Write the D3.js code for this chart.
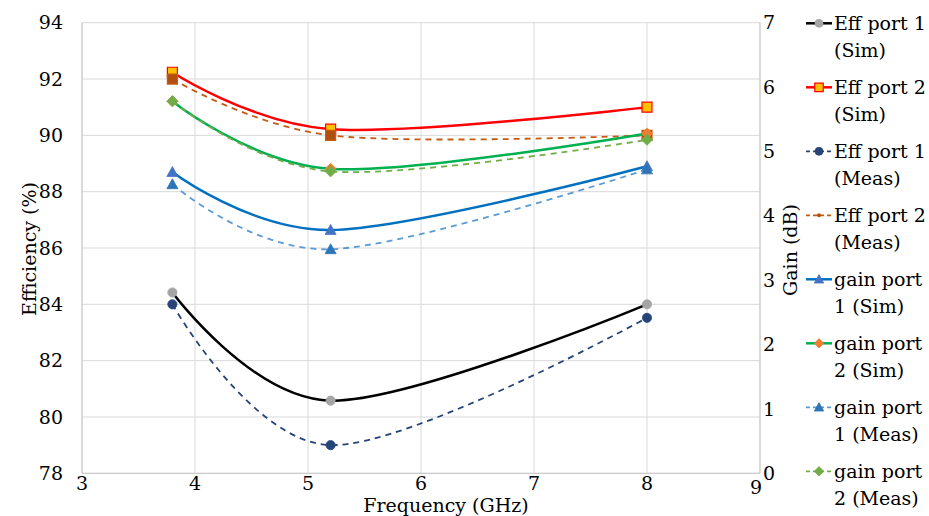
<!DOCTYPE html>
<html><head><meta charset="utf-8">
<script src="https://cdn.jsdelivr.net/npm/d3@7"></script>
<style>body{margin:0;background:#fff;} svg{display:block;}</style>
</head><body>
<svg id="c" width="929" height="516"></svg>
<script>
const freq = [3.8, 5.2, 8];
const effPort1Sim = [84.42, 80.58, 84.0];
const effPort2Sim = [92.24, 90.22, 91.0];
const effPort1Meas = [84.0, 79.0, 83.52];
const effPort2Meas = [92.0, 90.0, 90.0];
const gainPort1Sim = [4.68, 3.78, 4.77];
const gainPort2Sim = [5.78, 4.73, 5.28];
const gainPort1Meas = [4.49, 3.48, 4.72];
const gainPort2Meas = [5.78, 4.69, 5.18];
const xTicks = [3, 4, 5, 6, 7, 8, 9];
const effTicks = [78, 80, 82, 84, 86, 88, 90, 92, 94];
const gainTicks = [0, 1, 2, 3, 4, 5, 6, 7];
const legendLabels = [["Eff port 1", "(Sim)"], ["Eff port 2", "(Sim)"], ["Eff port 1", "(Meas)"], ["Eff port 2", "(Meas)"],
  ["gain port", "1 (Sim)"], ["gain port", "2 (Sim)"], ["gain port", "1 (Meas)"], ["gain port", "2 (Meas)"]];

const FONT = "DejaVu Serif, Liberation Serif, serif";

const series = [
  {vals: effPort1Sim, axis: "L", line: "#000000", w: 2.5, dash: null, marker: "circle", fill: "#A5A5A5", stroke: "#A5A5A5", size: 4.6},
  {vals: effPort2Sim, axis: "L", line: "#FF0000", w: 2.5, dash: null, marker: "square", fill: "#FFC000", stroke: "#FF0000", size: 10},
  {vals: effPort1Meas, axis: "L", line: "#264478", w: 1.8, dash: "6,5", marker: "circle", fill: "#264478", stroke: "#264478", size: 4.6},
  {vals: effPort2Meas, axis: "L", line: "#C55A11", w: 1.8, dash: "6,5", marker: "square", fill: "#B04F0F", stroke: "#C55A11", size: 10, legendMarker: "dot"},
  {vals: gainPort1Sim, axis: "R", line: "#0070C0", w: 2.5, dash: null, marker: "triangle", fill: "#4472C4", stroke: "#4472C4", size: 11},
  {vals: gainPort2Sim, axis: "R", line: "#00B050", w: 2.5, dash: null, marker: "diamond", fill: "#ED7D31", stroke: "#ED7D31", size: 11},
  {vals: gainPort1Meas, axis: "R", line: "#5B9BD5", w: 1.8, dash: "6,5", marker: "triangle", fill: "#2E75B6", stroke: "#2E75B6", size: 11},
  {vals: gainPort2Meas, axis: "R", line: "#70AD47", w: 1.8, dash: "6,5", marker: "diamond", fill: "#70AD47", stroke: "#70AD47", size: 11}
];

const svg = d3.select("#c");
const x = d3.scaleLinear().domain([3, 9]).range([82, 760]);
const yL = d3.scaleLinear().domain([78, 94]).range([473.3, 22.7]);
const yR = d3.scaleLinear().domain([0, 7]).range([473.3, 22.7]);
const grid = "#D9D9D9";

svg.append("g").selectAll("line").data(effTicks).join("line")
  .attr("x1", x(3)).attr("x2", x(9)).attr("y1", d => yL(d)).attr("y2", d => yL(d))
  .attr("stroke", grid).attr("stroke-width", 1);
svg.append("g").selectAll("line").data(xTicks).join("line")
  .attr("y1", yL(94)).attr("y2", yL(78)).attr("x1", d => x(d)).attr("x2", d => x(d))
  .attr("stroke", grid).attr("stroke-width", 1);
const ax = "#C8C8C8";
svg.append("line").attr("x1", x(3)).attr("x2", x(3)).attr("y1", yL(94)).attr("y2", yL(78)).attr("stroke", ax);
svg.append("line").attr("x1", x(9)).attr("x2", x(9)).attr("y1", yL(94)).attr("y2", yL(78)).attr("stroke", ax);
svg.append("line").attr("x1", x(3)).attr("x2", x(9)).attr("y1", yL(78)).attr("y2", yL(78)).attr("stroke", ax);

function txt(sel) { return sel.attr("font-family", FONT).attr("fill", "#000"); }

txt(svg.append("g").selectAll("text").data(effTicks).join("text"))
  .attr("x", 63).attr("y", d => yL(d)).attr("dy", "0.35em").attr("text-anchor", "end")
  .attr("font-size", 19).text(d => d);
txt(svg.append("g").selectAll("text").data(gainTicks).join("text"))
  .attr("x", 763).attr("y", d => yR(d)).attr("dy", "0.35em").attr("text-anchor", "start")
  .attr("font-size", 19).text(d => d);
txt(svg.append("g").selectAll("text").data(xTicks).join("text"))
  .attr("x", d => x(d) - (d === 9 ? 4 : 0)).attr("y", d => d === 9 ? 494 : 490).attr("text-anchor", "middle")
  .attr("font-size", 19).text(d => d);

txt(svg.append("text")).attr("x", 446).attr("y", 512).attr("text-anchor", "middle").attr("font-size", 19).text("Frequency (GHz)");
txt(svg.append("text")).attr("transform", "translate(36,249) rotate(-90)").attr("text-anchor", "middle").attr("font-size", 19).text("Efficiency (%)");
txt(svg.append("text")).attr("transform", "translate(797,250) rotate(-90)").attr("text-anchor", "middle").attr("font-size", 19).text("Gain (dB)");

function markerPath(type, s) {
  const h = s / 2;
  if (type === "square") return `M${-h},${-h}H${h}V${h}H${-h}Z`;
  if (type === "triangle") return `M0,${-h}L${h},${h * 0.8}L${-h},${h * 0.8}Z`;
  if (type === "diamond") return `M0,${-h}L${h},0L0,${h}L${-h},0Z`;
  return null;
}
function drawMarker(g, s, cx, cy, type, size) {
  if (type === "circle") {
    g.append("circle").attr("cx", cx).attr("cy", cy).attr("r", size).attr("fill", s.fill).attr("stroke", s.stroke).attr("stroke-width", 0.8);
  } else if (type === "dot") {
    g.append("circle").attr("cx", cx).attr("cy", cy).attr("r", 2).attr("fill", s.fill);
  } else {
    g.append("path").attr("d", markerPath(type, size)).attr("transform", `translate(${cx},${cy})`)
      .attr("fill", s.fill).attr("stroke", s.stroke).attr("stroke-width", type === "square" ? 1.2 : 0.8);
  }
}

const line = d3.line().curve(d3.curveCatmullRom.alpha(0));
series.forEach(s => {
  const y = s.axis === "L" ? yL : yR;
  const pts = freq.map((f, i) => [x(f), y(s.vals[i])]);
  const g = svg.append("g");
  g.append("path").attr("d", line(pts)).attr("fill", "none").attr("stroke", s.line)
    .attr("stroke-width", s.w).attr("stroke-dasharray", s.dash);
  pts.forEach(p => drawMarker(g, s, p[0], p[1], s.marker, s.size));
});

const lg = svg.append("g");
series.forEach((s, i) => {
  const cy = 23.3 + i * 64;
  lg.append("line").attr("x1", 806).attr("x2", 832).attr("y1", cy).attr("y2", cy)
    .attr("stroke", s.line).attr("stroke-width", s.w).attr("stroke-dasharray", s.dash ? "4,3" : null);
  drawMarker(lg, s, 819, cy, s.legendMarker || s.marker, s.marker === "circle" ? 4 : s.size * 0.85);
  txt(lg.append("text")).attr("x", 834).attr("y", cy).attr("dy", "0.35em").attr("font-size", 19).text(legendLabels[i][0]);
  txt(lg.append("text")).attr("x", 834).attr("y", cy + 27.5).attr("dy", "0.35em").attr("font-size", 19).text(legendLabels[i][1]);
});
</script>
</body></html>
